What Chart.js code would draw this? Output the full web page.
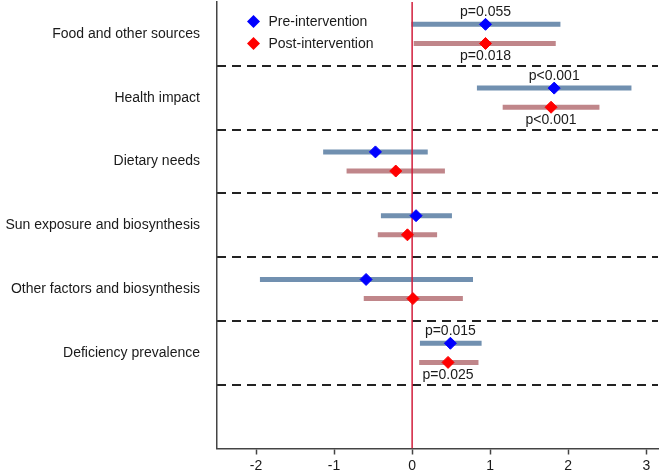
<!DOCTYPE html>
<html>
<head>
<meta charset="utf-8">
<script src="https://cdn.jsdelivr.net/npm/chart.js@4.4.1/dist/chart.umd.min.js"></script>
<style>
  html, body { margin: 0; padding: 0; background: #fff; }
  #grafico { display: block; }
</style>
</head>
<body>
<canvas id="grafico" width="661" height="476"></canvas>
<script>
// categorias (de cima para baixo)
const categorias = [
    'Food and other sources',
    'Health impact',
    'Dietary needs',
    'Sun exposure and biosynthesis',
    'Other factors and biosynthesis',
    'Deficiency prevalence'
];

// pré-intervenção: estimativa e intervalo
const preEstimativa = [0.94, 1.82, -0.47, 0.05, -0.59, 0.49];
const preInferior   = [-0.01, 0.83, -1.14, -0.40, -1.95, 0.10];
const preSuperior   = [1.90, 2.81, 0.20, 0.51, 0.78, 0.89];

// pós-intervenção
const posEstimativa = [0.94, 1.78, -0.21, -0.06, 0.01, 0.46];
const posInferior   = [0.02, 1.16, -0.84, -0.44, -0.62, 0.09];
const posSuperior   = [1.84, 2.40, 0.42, 0.32, 0.65, 0.85];

// valores de p
const prePValor = ['p=0.055', 'p<0.001', null, null, null, 'p=0.015'];
const posPValor = ['p=0.018', 'p<0.001', null, null, null, 'p=0.025'];

const ticksX = [-2, -1, 0, 1, 2, 3];
const linhaReferencia = 0;

const nomesSeries = ['Pre-intervention', 'Post-intervention'];

const FONTE = 'Arial, "Liberation Sans", sans-serif';
const corPre = '#7190b0';
const corPos = '#c0868a';
const azul = '#0000ff';
const vermelho = '#ff0000';

Chart.defaults.font.family = FONTE;
Chart.defaults.font.size = 14;
Chart.defaults.color = '#1a1a1a';

// linha de cada grupo: pré em i+0.35, pós em i+0.65
const yPre = i => i + 0.35;
const yPos = i => i + 0.65;

function segmentos(inf, sup, yFn) {
    const pts = [];
    inf.forEach((v, i) => {
        pts.push({ x: v, y: yFn(i) }, { x: sup[i], y: yFn(i) }, { x: null, y: null });
    });
    return pts;
}

const anotacoes = {
    id: 'anotacoes',
    afterDatasetsDraw(chart) {
        const { ctx, chartArea, scales: { x, y } } = chart;
        ctx.save();
        ctx.font = '14px ' + FONTE;
        ctx.fillStyle = '#1a1a1a';
        ctx.textAlign = 'center';
        ctx.textBaseline = 'middle';
        categorias.forEach((c, i) => {
            if (prePValor[i]) ctx.fillText(prePValor[i], x.getPixelForValue(preEstimativa[i]), y.getPixelForValue(i + 0.16));
            if (posPValor[i]) ctx.fillText(posPValor[i], x.getPixelForValue(posEstimativa[i]), y.getPixelForValue(i + 0.85));
        });

        // legenda dentro da área do gráfico
        const cores = [azul, vermelho];
        nomesSeries.forEach((nome, k) => {
            const cx = chartArea.left + 36.5;
            const cy = chartArea.top + 19.5 + k * 22;
            const r = 6.5;
            ctx.beginPath();
            ctx.moveTo(cx - r, cy);
            ctx.lineTo(cx, cy - r);
            ctx.lineTo(cx + r, cy);
            ctx.lineTo(cx, cy + r);
            ctx.closePath();
            ctx.fillStyle = cores[k];
            ctx.fill();
            ctx.fillStyle = '#1a1a1a';
            ctx.textAlign = 'left';
            ctx.fillText(nome, chartArea.left + 51.5, cy + 0.5);
        });
        ctx.restore();
    }
};

new Chart(document.getElementById('grafico').getContext('2d'), {
    type: 'scatter',
    data: {
        datasets: [
            {
                type: 'line',
                label: 'pre IC',
                data: segmentos(preInferior, preSuperior, yPre),
                borderColor: corPre,
                borderWidth: 5,
                pointRadius: 0,
                spanGaps: false,
                order: 3
            },
            {
                type: 'line',
                label: 'pos IC',
                data: segmentos(posInferior, posSuperior, yPos),
                borderColor: corPos,
                borderWidth: 5,
                pointRadius: 0,
                spanGaps: false,
                order: 3
            },
            {
                type: 'line',
                label: 'zero',
                data: [{ x: linhaReferencia, y: 0 }, { x: linhaReferencia, y: 7 }],
                borderColor: '#d21e3c',
                borderWidth: 1.5,
                pointRadius: 0,
                order: 2
            },
            {
                label: nomesSeries[0],
                data: preEstimativa.map((v, i) => ({ x: v, y: yPre(i) })),
                pointStyle: 'rectRot',
                pointRadius: 6,
                backgroundColor: azul,
                borderColor: azul,
                borderWidth: 1,
                order: 1
            },
            {
                label: nomesSeries[1],
                data: posEstimativa.map((v, i) => ({ x: v, y: yPos(i) })),
                pointStyle: 'rectRot',
                pointRadius: 6,
                backgroundColor: vermelho,
                borderColor: vermelho,
                borderWidth: 1,
                order: 1
            }
        ]
    },
    options: {
        responsive: false,
        animation: false,
        layout: { autoPadding: false, padding: { top: 2, right: 3, left: 0, bottom: 0 } },
        plugins: {
            legend: { display: false },
            tooltip: { enabled: false }
        },
        scales: {
            x: {
                type: 'linear',
                min: -2.5,
                max: 3.15,
                afterBuildTicks: s => { s.ticks = ticksX.map(v => ({ value: v })); },
                afterFit: s => { s.height = 27.5; s.paddingLeft = 0; s.paddingRight = 0; },
                ticks: { padding: 3, color: '#1a1a1a', font: { size: 14 } },
                grid: {
                    color: 'rgba(0,0,0,0)',
                    tickColor: '#444',
                    tickWidth: 1.5,
                    tickLength: 6
                },
                border: { color: '#444', width: 1.5 }
            },
            y: {
                type: 'linear',
                min: 0,
                max: 7,
                reverse: true,
                afterBuildTicks: s => { s.ticks = categorias.map((c, i) => ({ value: i + 0.5 })); },
                afterFit: s => { s.width = 217; s.paddingTop = 0; s.paddingBottom = 0; },
                ticks: {
                    padding: 17,
                    color: '#1a1a1a',
                    font: { size: 14 },
                    callback: v => categorias[Math.floor(v)]
                },
                grid: { display: false, drawTicks: false },
                border: { color: '#444', width: 1.5 }
            },
            yGrade: {
                type: 'linear',
                position: 'right',
                min: 0,
                max: 7,
                reverse: true,
                afterBuildTicks: s => { s.ticks = [1, 2, 3, 4, 5, 6].map(v => ({ value: v })); },
                afterFit: s => { s.width = 0; s.paddingTop = 0; s.paddingBottom = 0; },
                ticks: { display: false },
                grid: { color: '#222', lineWidth: 2, drawTicks: false },
                border: { display: false, dash: [9, 6] }
            }
        }
    },
    plugins: [anotacoes]
});
</script>
</body>
</html>
